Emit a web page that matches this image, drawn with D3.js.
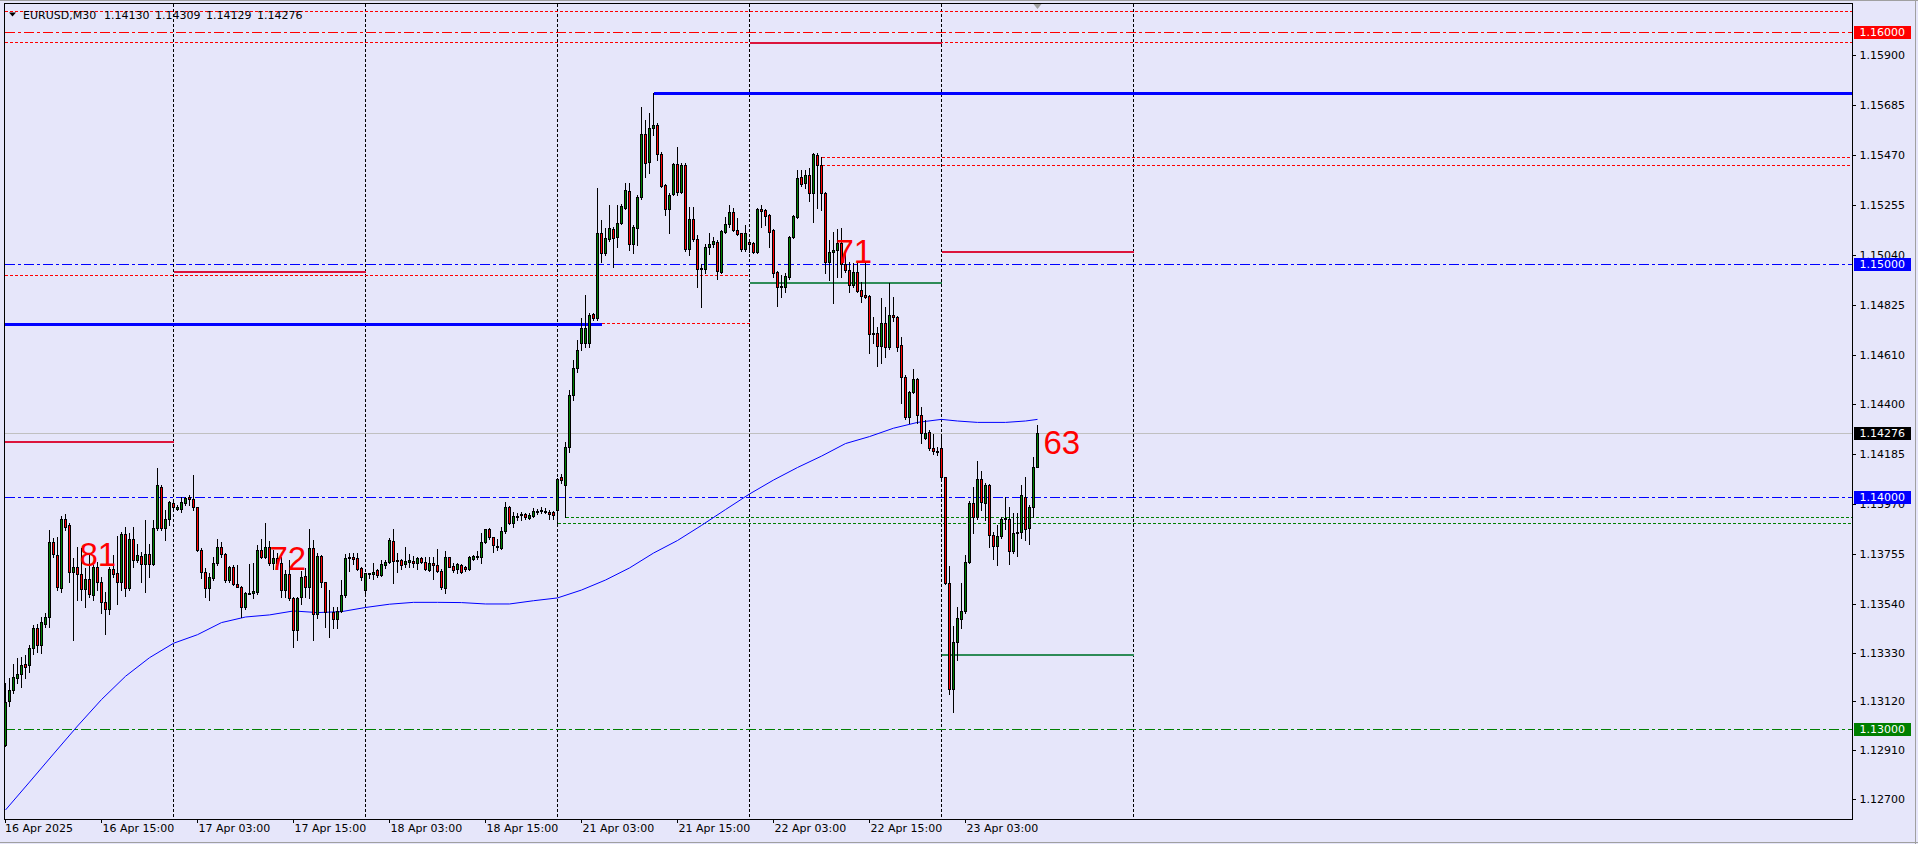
<!DOCTYPE html>
<html><head><meta charset="utf-8">
<script src="https://cdn.jsdelivr.net/npm/d3@7"></script>
<style>html,body{margin:0;padding:0;background:#E6E6FA;overflow:hidden}svg{display:block}</style>
</head><body>
<svg id="chart" width="1918" height="844"></svg>
<script>
// ---------- DATA (EURUSD M30, bar 0 = 16 Apr 2025 03:00) ----------
const opens = [1.12932,1.13123,1.13169,1.13219,1.13237,1.13283,1.13276,1.13348,1.13434,1.13362,1.13455,1.13481,1.13805,1.13749,1.13606,1.13903,1.13877,1.13678,1.13699,1.13670,
1.13602,1.13645,1.13577,1.13699,1.13635,1.13549,1.13516,1.13688,1.13673,1.13635,1.13840,1.13606,1.13817,1.13728,1.13745,1.13713,1.13756,1.13713,1.13864,1.14040,
1.13864,1.13903,1.13972,1.13949,1.13946,1.13975,1.14001,1.13989,1.13955,1.13771,1.13678,1.13606,1.13652,1.13717,1.13782,1.13754,1.13642,1.13699,1.13625,1.13613,
1.13524,1.13587,1.13587,1.13592,1.13771,1.13742,1.13785,1.13717,1.13735,1.13714,1.13599,1.13668,1.13563,1.13427,1.13567,1.13659,1.13613,1.13778,1.13498,1.13745,
1.13632,1.13506,1.13506,1.13473,1.13510,1.13577,1.13735,1.13739,1.13735,1.13692,1.13599,1.13671,1.13668,1.13685,1.13664,1.13708,1.13719,1.13811,1.13728,1.13728,
1.13711,1.13721,1.13724,1.13714,1.13735,1.13719,1.13685,1.13714,1.13706,1.13682,1.13606,1.13739,1.13702,1.13688,1.13705,1.13699,1.13688,1.13734,1.13739,1.13742,
1.13804,1.13860,1.13826,1.13788,1.13778,1.13854,1.13957,1.13889,1.13914,1.13920,1.13926,1.13909,1.13917,1.13934,1.13937,1.13939,1.13936,1.13934,1.13943,1.14086,
1.14051,1.14213,1.14438,1.14554,1.14660,1.14663,1.14663,1.14785,1.14767,1.15133,1.15050,1.15107,1.15150,1.15116,1.15176,1.15241,1.15315,1.15086,1.15155,1.15288,
1.15560,1.15441,1.15585,1.15599,1.15474,1.15341,1.15236,1.15302,1.15431,1.15312,1.15427,1.15064,1.15193,1.15107,1.14978,1.14981,1.15073,1.15087,1.15097,1.14968,
1.15140,1.15173,1.15223,1.15147,1.15133,1.15064,1.15096,1.15090,1.15054,1.15238,1.15233,1.15212,1.15147,1.14968,1.14907,1.14901,1.14947,1.15116,1.15205,1.15374,
1.15351,1.15384,1.15305,1.15470,1.15427,1.15308,1.15011,1.15054,1.15061,1.15090,1.15001,1.14975,1.14911,1.14968,1.14889,1.14868,1.14864,1.14706,1.14703,1.14648,
1.14746,1.14643,1.14782,1.14774,1.14653,1.14514,1.14342,1.14449,1.14505,1.14350,1.14253,1.14278,1.14208,1.14198,1.14208,1.14084,1.13628,1.13172,1.13374,1.13474,
1.13507,1.13721,1.13972,1.13912,1.14075,1.13972,1.14051,1.13836,1.13789,1.13831,1.13903,1.13903,1.13768,1.13843,1.13850,1.14000,1.13864,1.13955,1.14130];
const highs = [1.13197,1.13219,1.13283,1.13305,1.13312,1.13319,1.13362,1.13448,1.13455,1.13484,1.13501,1.13857,1.13821,1.13828,1.13917,1.13926,1.13886,1.13735,1.13785,1.13778,
1.13692,1.13749,1.13721,1.13721,1.13656,1.13592,1.13699,1.13749,1.13831,1.13850,1.13868,1.13845,1.13871,1.13799,1.13764,1.13900,1.13799,1.13900,1.14126,1.14050,
1.13943,1.13983,1.13980,1.13965,1.14001,1.14001,1.14007,1.14094,1.13958,1.13778,1.13692,1.13671,1.13739,1.13817,1.13807,1.13757,1.13702,1.13707,1.13707,1.13616,
1.13592,1.13709,1.13714,1.13793,1.13817,1.13886,1.13811,1.13771,1.13757,1.13742,1.13685,1.13728,1.13570,1.13570,1.13682,1.13692,1.13860,1.13814,1.13757,1.13750,
1.13635,1.13599,1.13527,1.13527,1.13642,1.13754,1.13757,1.13757,1.13757,1.13699,1.13673,1.13674,1.13717,1.13688,1.13728,1.13728,1.13821,1.13860,1.13757,1.13734,
1.13783,1.13754,1.13745,1.13739,1.13739,1.13739,1.13739,1.13742,1.13774,1.13688,1.13768,1.13742,1.13714,1.13717,1.13711,1.13702,1.13745,1.13748,1.13768,1.13843,
1.13863,1.13864,1.13828,1.13817,1.13871,1.13979,1.13962,1.13936,1.13929,1.13936,1.13932,1.13929,1.13950,1.13946,1.13955,1.13950,1.13943,1.13940,1.14079,1.14100,
1.14237,1.14459,1.14589,1.14674,1.14767,1.14868,1.14789,1.14789,1.15327,1.15190,1.15155,1.15255,1.15162,1.15255,1.15259,1.15348,1.15348,1.15169,1.15298,1.15678,
1.15621,1.15652,1.15735,1.15606,1.15484,1.15345,1.15305,1.15434,1.15503,1.15434,1.15434,1.15248,1.15248,1.15126,1.15001,1.15087,1.15133,1.15119,1.15104,1.15147,
1.15202,1.15255,1.15241,1.15198,1.15136,1.15169,1.15104,1.15097,1.15241,1.15255,1.15236,1.15216,1.15150,1.14972,1.14954,1.14961,1.15122,1.15212,1.15406,1.15406,
1.15406,1.15413,1.15477,1.15480,1.15463,1.15312,1.15104,1.15140,1.15150,1.15155,1.15061,1.15011,1.15007,1.15007,1.14925,1.15007,1.14868,1.14774,1.14732,1.14853,
1.14818,1.14918,1.14861,1.14777,1.14689,1.14524,1.14456,1.14548,1.14509,1.14387,1.14330,1.14287,1.14270,1.14216,1.14259,1.14087,1.13702,1.13444,1.13527,1.13631,
1.13750,1.13983,1.14041,1.14154,1.14111,1.14058,1.14055,1.13850,1.13879,1.13914,1.14000,1.13957,1.13929,1.13929,1.14051,1.14087,1.13965,1.14173,1.14309];
const lows = [1.12928,1.13100,1.13154,1.13197,1.13183,1.13219,1.13247,1.13326,1.13333,1.13329,1.13441,1.13441,1.13739,1.13599,1.13592,1.13857,1.13635,1.13384,1.13556,1.13556,
1.13527,1.13570,1.13556,1.13599,1.13501,1.13409,1.13498,1.13656,1.13541,1.13599,1.13573,1.13599,1.13699,1.13721,1.13635,1.13592,1.13656,1.13706,1.13857,1.13857,
1.13814,1.13878,1.13943,1.13943,1.13936,1.13965,1.13965,1.13943,1.13768,1.13649,1.13570,1.13556,1.13642,1.13707,1.13742,1.13635,1.13635,1.13620,1.13610,1.13481,
1.13516,1.13582,1.13563,1.13584,1.13735,1.13735,1.13707,1.13690,1.13700,1.13570,1.13570,1.13556,1.13352,1.13384,1.13541,1.13570,1.13563,1.13384,1.13477,1.13613,
1.13441,1.13398,1.13434,1.13434,1.13503,1.13570,1.13682,1.13711,1.13685,1.13642,1.13582,1.13649,1.13645,1.13656,1.13659,1.13692,1.13714,1.13628,1.13678,1.13688,
1.13699,1.13699,1.13699,1.13688,1.13714,1.13685,1.13682,1.13645,1.13678,1.13602,1.13585,1.13696,1.13678,1.13671,1.13674,1.13682,1.13685,1.13728,1.13731,1.13717,
1.13800,1.13817,1.13764,1.13771,1.13775,1.13846,1.13883,1.13869,1.13900,1.13900,1.13903,1.13906,1.13912,1.13926,1.13932,1.13929,1.13903,1.13906,1.13889,1.14060,
1.13915,1.14193,1.14416,1.14537,1.14631,1.14646,1.14646,1.14760,1.14760,1.15011,1.15040,1.15102,1.14990,1.15073,1.15173,1.15236,1.15061,1.15050,1.15083,1.15279,
1.15377,1.15391,1.15556,1.15449,1.15331,1.15212,1.15133,1.15298,1.15298,1.15305,1.15059,1.15040,1.15102,1.14901,1.14818,1.14961,1.15044,1.15076,1.14935,1.14964,
1.15136,1.15162,1.15144,1.15126,1.15059,1.15059,1.15054,1.15047,1.15050,1.15162,1.15169,1.15076,1.14947,1.14820,1.14861,1.14882,1.14935,1.15112,1.15198,1.15337,
1.15327,1.15274,1.15183,1.15241,1.15233,1.14961,1.14932,1.14835,1.14947,1.14947,1.14968,1.14882,1.14904,1.14881,1.14839,1.14853,1.14617,1.14660,1.14562,1.14574,
1.14603,1.14634,1.14757,1.14628,1.14402,1.14333,1.14316,1.14445,1.14316,1.14230,1.14250,1.14201,1.14185,1.14178,1.14079,1.13625,1.13152,1.13076,1.13298,1.13434,
1.13501,1.13717,1.13846,1.13903,1.13943,1.13900,1.13785,1.13731,1.13706,1.13821,1.13860,1.13711,1.13757,1.13745,1.13821,1.13814,1.13797,1.13914,1.14129];
const closes = [1.13118,1.13171,1.13223,1.13237,1.13276,1.13269,1.13348,1.13434,1.13362,1.13462,1.13481,1.13807,1.13754,1.13610,1.13903,1.13868,1.13678,1.13699,1.13670,1.13602,
1.13645,1.13582,1.13699,1.13635,1.13549,1.13516,1.13688,1.13668,1.13635,1.13840,1.13606,1.13817,1.13728,1.13748,1.13713,1.13754,1.13713,1.13864,1.14050,1.13864,
1.13903,1.13977,1.13954,1.13955,1.13979,1.13995,1.13989,1.13955,1.13771,1.13678,1.13606,1.13656,1.13717,1.13785,1.13754,1.13642,1.13699,1.13625,1.13613,1.13524,
1.13587,1.13584,1.13596,1.13771,1.13742,1.13785,1.13717,1.13735,1.13714,1.13599,1.13668,1.13563,1.13427,1.13563,1.13653,1.13613,1.13778,1.13498,1.13745,1.13632,
1.13506,1.13503,1.13473,1.13510,1.13577,1.13735,1.13739,1.13734,1.13689,1.13656,1.13671,1.13668,1.13678,1.13662,1.13709,1.13719,1.13814,1.13725,1.13722,1.13706,
1.13724,1.13728,1.13714,1.13735,1.13719,1.13688,1.13714,1.13708,1.13682,1.13613,1.13739,1.13699,1.13685,1.13709,1.13678,1.13691,1.13739,1.13745,1.13745,1.13804,
1.13860,1.13828,1.13791,1.13783,1.13854,1.13957,1.13889,1.13917,1.13919,1.13926,1.13912,1.13920,1.13940,1.13940,1.13943,1.13933,1.13926,1.13923,1.14076,1.14072,
1.14213,1.14438,1.14554,1.14631,1.14724,1.14724,1.14782,1.14767,1.15133,1.15047,1.15112,1.15155,1.15112,1.15176,1.15251,1.15320,1.15086,1.15162,1.15291,1.15560,
1.15437,1.15585,1.15599,1.15474,1.15337,1.15236,1.15298,1.15431,1.15312,1.15427,1.15064,1.15193,1.15107,1.14978,1.14983,1.15076,1.15087,1.15102,1.14972,1.15143,
1.15173,1.15223,1.15147,1.15130,1.15064,1.15133,1.15087,1.15054,1.15238,1.15231,1.15208,1.15140,1.14964,1.14904,1.14901,1.14950,1.15119,1.15208,1.15370,1.15345,
1.15384,1.15305,1.15474,1.15427,1.15305,1.15011,1.15054,1.15061,1.15090,1.15001,1.14975,1.14911,1.14968,1.14886,1.14864,1.14861,1.14699,1.14700,1.14648,1.14746,
1.14643,1.14782,1.14772,1.14645,1.14514,1.14342,1.14449,1.14505,1.14350,1.14273,1.14275,1.14208,1.14198,1.14194,1.14084,1.13628,1.13172,1.13374,1.13477,1.13507,
1.13721,1.13972,1.13912,1.14075,1.13976,1.14051,1.13836,1.13789,1.13831,1.13903,1.13907,1.13768,1.13843,1.13850,1.14008,1.13860,1.13955,1.14130,1.14276];

// moving average read at sampled bars
const maBars = [0,6,12,18,24,30,36,42,48,54,60,66,72,78,84,90,96,102,108,114,120,126,132,138,144,150,156,162,168,174,180,186,192,198,204,210,216,222,228,234,238,243,250,255,258];
const maVals = [1.12653,1.12773,1.12894,1.13014,1.13128,1.13228,1.13308,1.13370,1.13407,1.13459,1.13483,1.13492,1.13509,1.13502,1.13506,1.13524,1.13538,1.13546,1.13546,1.13545,
1.13539,1.13539,1.13553,1.13565,1.13599,1.13642,1.13694,1.13758,1.13812,1.13877,1.13945,1.14012,1.14072,1.14126,1.14175,1.14229,1.14259,1.14295,1.14320,1.14333,1.14326,1.14320,1.14320,1.14326,1.14333];

// time axis
const timeLabels = ["16 Apr 2025","16 Apr 15:00","17 Apr 03:00","17 Apr 15:00","18 Apr 03:00","18 Apr 15:00","21 Apr 03:00","21 Apr 15:00","22 Apr 03:00","22 Apr 15:00","23 Apr 03:00"];
const timeLabelBars = [0,24,48,72,96,120,144,168,192,216,240];
const separatorBars = [42,90,138,186,234,282];

// price axis
const priceTicks = [1.15900,1.15685,1.15470,1.15255,1.15040,1.14825,1.14610,1.14400,1.14185,1.13970,1.13755,1.13540,1.13330,1.13120,1.12910,1.12700];
const tagPrices = [1.16000,1.15000,1.14276,1.14000,1.13000];
const tagKinds  = ["red","blue","black","blue","green"];

// drawn level objects: price, first bar, last bar (null = to chart edge), kind
const levelPrice = [1.16089,1.16000,1.15956,1.15952,1.15735,1.15460,1.15426,1.15054,1.15000,1.14969,1.14953,1.14921,1.14742,1.14746,1.14236,1.14000,1.13915,1.13889,1.13000,1.13320];
const levelFrom  = [null,null,null,186,162,204,204,234,null,42,null,186,null,149,null,null,140,138,null,234];
const levelTo    = [null,null,null,234,null,null,null,282,null,90,186,234,149,186,42,null,null,null,null,282];
const levelKind  = ["redDot","redDashDot","redDot","crimson","blueThick","redDot","redDot","crimson","blueDashDot","crimson","redDot","seaGreen","blueThick","redDot","crimson","blueDashDot","greenDot","greenDot","greenDashDot","seaGreen"];

const notes = ["81","72","71","63"];
const noteBars = [18.5,66,207.5,259.5];
const notePrices = [1.13702,1.13684,1.15004,1.14184];

const title = "EURUSD,M30";
const titleValues = "1.14130 1.14309 1.14129 1.14276";

// ---------- CHART ----------
const W = 1918, H = 844;
const L = 4.5, R = 1852.5, T = 3.5, B = 819.5;
const svg = d3.select("#chart");
const x = d3.scaleLinear().domain([0, 258]).range([5.5, 1037.5]);
const y = d3.scaleLinear().domain([1.16, 1.13]).range([31.8, 729.3]);
const font = "'DejaVu Sans', Verdana, sans-serif";

svg.append("rect").attr("width", W).attr("height", H).attr("fill", "#E6E6FA");
// window edges
svg.append("line").attr("x1",0).attr("x2",W).attr("y1",0.5).attr("y2",0.5).attr("stroke","#A0A0A0");
svg.append("line").attr("x1",1915.5).attr("x2",1915.5).attr("y1",0).attr("y2",H).attr("stroke","#A0A0A0");
svg.append("line").attr("x1",0).attr("x2",W).attr("y1",842.5).attr("y2",842.5).attr("stroke","#A0A0A0");

const clip = svg.append("defs").append("clipPath").attr("id","plot");
clip.append("rect").attr("x",L).attr("y",T).attr("width",R-L).attr("height",B-T);
const g = svg.append("g").attr("clip-path","url(#plot)");

// separators
g.selectAll("line.sep").data(separatorBars).join("line")
  .attr("x1", d => x(d)).attr("x2", d => x(d)).attr("y1", T).attr("y2", B)
  .attr("stroke", "#000").attr("stroke-dasharray", "3,2").attr("shape-rendering","crispEdges");

// level lines
const styles = {
  redDot: {c:"#FF0000", w:1, d:"3,2"},
  redDashDot: {c:"#FF0000", w:1, d:"10,3,3,3"},
  crimson: {c:"#DC143C", w:2, d:null},
  blueThick: {c:"#0000FF", w:3, d:null},
  blueDashDot: {c:"#0000FF", w:1, d:"10,3,3,3"},
  seaGreen: {c:"#2E8B57", w:2, d:null},
  greenDot: {c:"#008000", w:1, d:"3,2"},
  greenDashDot: {c:"#008000", w:1, d:"10,3,3,3"}
};
levelPrice.forEach((p, k) => {
  const s = styles[levelKind[k]];
  const yy = Math.round(y(p)) + (s.w % 2 ? 0.5 : 0);
  const x1 = levelFrom[k] === null ? L : x(levelFrom[k]);
  const x2 = levelTo[k] === null ? R : x(levelTo[k]);
  const ln = g.append("line").attr("x1", x1).attr("x2", x2).attr("y1", yy).attr("y2", yy)
    .attr("stroke", s.c).attr("stroke-width", s.w).attr("shape-rendering","crispEdges");
  if (s.d) ln.attr("stroke-dasharray", s.d);
});

// bid line
g.append("line").attr("x1",L).attr("x2",R).attr("y1",Math.round(y(closes[closes.length-1]))+0.5)
  .attr("y2",Math.round(y(closes[closes.length-1]))+0.5).attr("stroke","#C0C0C0").attr("shape-rendering","crispEdges");

// moving average
const ma = d3.line().x((d,i) => x(maBars[i])).y(d => y(d));
g.append("path").attr("d", ma(maVals)).attr("fill","none").attr("stroke","#0000FF").attr("stroke-width",1);

// candles
const bars = opens.map((o,i) => ({i, o, h: highs[i], l: lows[i], c: closes[i]}));
const cg = g.append("g").attr("shape-rendering","crispEdges");
cg.selectAll("line.wick").data(bars).join("line")
  .attr("x1", d => x(d.i)).attr("x2", d => x(d.i))
  .attr("y1", d => Math.round(y(d.h))).attr("y2", d => Math.round(y(d.l)) + 1)
  .attr("stroke", "#000");
cg.selectAll("rect.body").data(bars).join("rect")
  .attr("x", d => x(d.i) - 1)
  .attr("y", d => Math.round(y(Math.max(d.o, d.c))) + 0.5)
  .attr("width", 2)
  .attr("height", d => Math.max(0, Math.round(y(Math.min(d.o, d.c))) - Math.round(y(Math.max(d.o, d.c)))))
  .attr("fill", d => d.c >= d.o ? "#008000" : "#FF0000")
  .attr("stroke", "#000");

// notes
g.selectAll("text.note").data(notes).join("text")
  .attr("x", (d,i) => x(noteBars[i])).attr("y", (d,i) => y(notePrices[i]))
  .attr("fill", "#FF0000").attr("font-family", "'Liberation Sans', Arial, sans-serif").attr("font-size", 33)
  .text(d => d);

// shift marker
svg.append("path").attr("d", `M${x(258)-4},4 L${x(258)+4},4 L${x(258)},9 Z`).attr("fill","#A0A0A0");

// frame
svg.append("rect").attr("x",L).attr("y",T).attr("width",R-L).attr("height",B-T)
  .attr("fill","none").attr("stroke","#000").attr("shape-rendering","crispEdges");

// price axis ticks + labels
const yAxis = d3.axisRight(y).tickValues(priceTicks).tickSize(3).tickPadding(4).tickFormat(d3.format(".5f"));
const ya = svg.append("g").attr("transform", `translate(${R},0)`).call(yAxis);
ya.select(".domain").remove();
ya.selectAll(".tick line").attr("stroke","#000").attr("shape-rendering","crispEdges");
ya.selectAll(".tick text").attr("font-family", font).attr("font-size", 11).attr("fill","#000").attr("x", 7);

// price tags
const tagColor = {red:"#FF0000", blue:"#0000FF", black:"#000000", green:"#008000"};
tagPrices.forEach((p, k) => {
  const yy = Math.round(y(p));
  svg.append("rect").attr("x", 1854).attr("y", yy - 6).attr("width", 57).attr("height", 13).attr("fill", tagColor[tagKinds[k]]);
  svg.append("text").attr("x", 1859.5).attr("y", yy + 4).attr("fill", "#fff")
    .attr("font-family", font).attr("font-size", 11).text(d3.format(".5f")(p));
});

// time axis
const xa = svg.append("g");
timeLabels.forEach((t, k) => {
  const xx = x(timeLabelBars[k]);
  xa.append("line").attr("x1", xx).attr("x2", xx).attr("y1", B).attr("y2", B + 3).attr("stroke","#000").attr("shape-rendering","crispEdges");
  xa.append("text").attr("x", k === 0 ? 5 : xx + 1).attr("y", 832).attr("font-family", font).attr("font-size", 11).attr("fill","#000").text(t);
});

// title
svg.append("path").attr("d","M9,12.5 L16,12.5 L12.5,16.5 Z").attr("fill","#000");
svg.append("text").attr("x",23).attr("y",19).attr("font-family",font).attr("font-size",11).attr("fill","#000").text(title);
svg.append("text").attr("x",104).attr("y",19).attr("font-family",font).attr("font-size",11).attr("fill","#000").attr("word-spacing","2px").text(titleValues);
</script>
</body></html>
